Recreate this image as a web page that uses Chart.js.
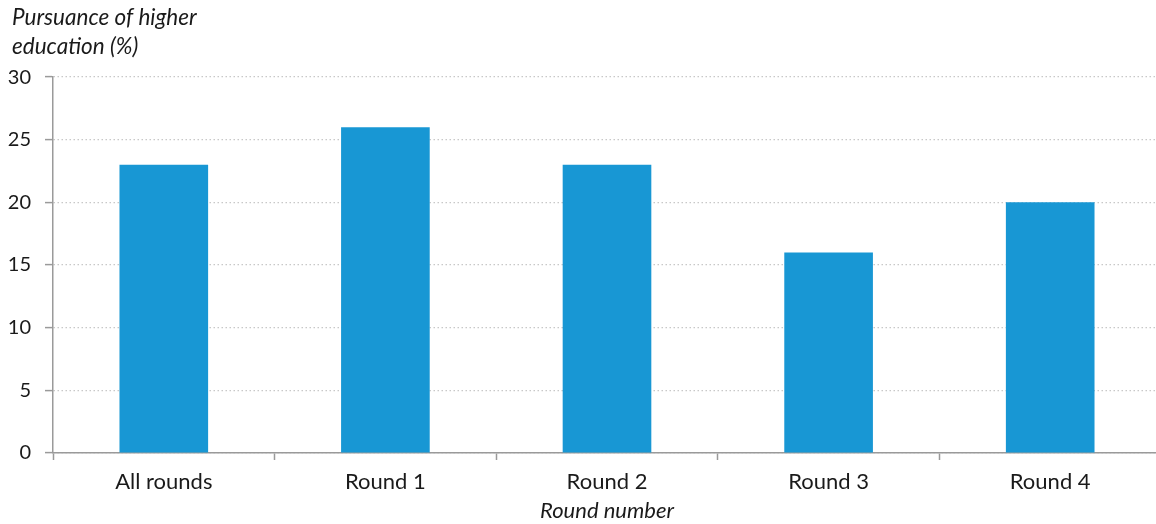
<!DOCTYPE html>
<html lang="en">

<head>
    <meta charset="UTF-8">
    <title>Pursuance of higher education</title>

    <!-- Load Chart.js from CDN -->
    <script src="https://cdn.jsdelivr.net/npm/chart.js"></script>

    <style>
        body {
            margin: 0;
            overflow: hidden;
            background: #fff;
        }

        #chart-container {
            width: 1162px;
            height: 524px;
        }
    </style>
</head>

<body>

    <div id="chart-container">
        <canvas id="educationChart" width="1162" height="524"></canvas>
    </div>

    <script>
        // data
        const categories = ['All rounds', 'Round 1', 'Round 2', 'Round 3', 'Round 4'];
        const pursuanceValues = [23, 26, 23, 16, 20];
        const yTicks = [0, 5, 10, 15, 20, 25, 30];

        const barColor = '#1897d4';
        const axisColor = '#9a9a9a';
        const gridColor = '#c8c8c8';
        const textColor = '#1a1a1a';

        Chart.defaults.font.family = 'Lato, "Open Sans", sans-serif';
        Chart.defaults.color = textColor;

        // nudges the title a few px right of the y labels, like the original
        const titleShift = {
            id: 'titleShift',
            afterLayout: (chart) => {
                const t = chart.titleBlock;
                if (t) { t.left += 4; t.right += 4; }
            }
        };

        const ctx = document.getElementById('educationChart').getContext('2d');
        const educationChart = new Chart(ctx, {
            type: 'bar',
            data: {
                labels: categories,
                datasets: [{
                    label: 'Pursuance of higher education (%)',
                    data: pursuanceValues,
                    backgroundColor: barColor,
                    borderWidth: 0,
                    barPercentage: 0.4,
                    categoryPercentage: 1.0
                }]
            },
            options: {
                responsive: false,
                animation: false,
                layout: {
                    padding: { left: 8, right: 1, top: 0, bottom: 0 }
                },
                plugins: {
                    legend: { display: false },
                    tooltip: { enabled: false },
                    title: {
                        display: true,
                        text: ['Pursuance of higher', 'education (%)'],
                        align: 'start',
                        color: textColor,
                        font: { size: 22.5, style: 'italic', weight: 'normal', lineHeight: 1.29 },
                        padding: { top: 3.5, bottom: 15.5 }
                    }
                },
                scales: {
                    x: {
                        // keep the axis band fixed so the plot bottom sits at the 0 line
                        afterFit: (axis) => { axis.height = 71; },
                        grid: {
                            offset: true,
                            drawOnChartArea: false,
                            drawTicks: true,
                            tickLength: 7,
                            tickColor: axisColor,
                            tickWidth: 1.5
                        },
                        border: { color: axisColor, width: 1.5 },
                        ticks: {
                            color: textColor,
                            font: { size: 22 },
                            padding: 9
                        },
                        title: {
                            display: true,
                            text: 'Round number',
                            color: textColor,
                            font: { size: 22, style: 'italic', lineHeight: 1.15 },
                            padding: { top: 4, bottom: 0 }
                        }
                    },
                    y: {
                        min: 0,
                        max: 30,
                        afterFit: (axis) => { axis.width = 45; },
                        afterBuildTicks: (axis) => {
                            axis.ticks = yTicks.map(v => ({ value: v }));
                        },
                        grid: {
                            color: gridColor,
                            lineWidth: 1.2,
                            tickLength: 8,
                            tickColor: axisColor,
                            tickWidth: 1.5
                        },
                        border: { color: axisColor, width: 1.5, dash: [1.5, 2.5] },
                        ticks: {
                            color: textColor,
                            font: { size: 20 },
                            padding: 14
                        }
                    }
                }
            },
            plugins: [titleShift]
        });
    </script>

</body>

</html>
